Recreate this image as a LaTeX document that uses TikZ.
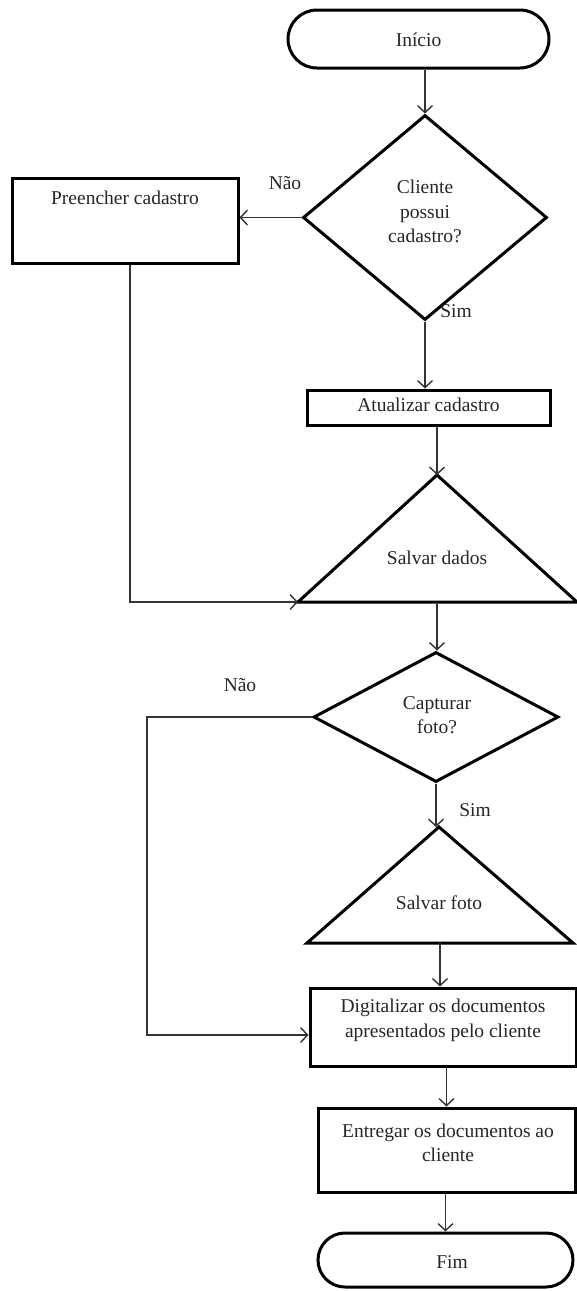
\documentclass[tikz,border=0pt]{standalone}
\usepackage{fontspec}
\setmainfont{Liberation Serif}
\usetikzlibrary{shapes.geometric,shapes.misc,arrows.meta}
\begin{document}
\begin{tikzpicture}[x=1pt,y=-1pt,
  every node/.style={font=\fontsize{19.5}{24.5}\selectfont,text=black!85},
  shp/.style={draw=black,line width=3pt},
  term/.style={shp,rounded rectangle,inner sep=0pt},
  dec/.style={shp,diamond,inner sep=0pt},
  boxnode/.style={shp,rectangle,inner sep=0pt},
  txt/.style={align=center,inner sep=0pt},
  conn/.style={draw=black!80,line width=1.4pt,-{Straight Barb[length=7pt,width=15pt]}}]
\useasboundingbox (0,0) rectangle (577,1291);

% shapes
\node[term, minimum width=261pt, minimum height=58pt] (ini) at (418.5,39) {};
\node[txt] (tini) at (418.5,40) {Início};

\node[dec, minimum width=244pt, minimum height=205pt] (d1) at (425,217.5) {};
\node[txt] (td1) at (425,211.5) {Cliente\\possui\\cadastro?};

\node[boxnode, minimum width=226pt, minimum height=85pt] (pre) at (125,220.5) {};
\node[txt] (tpre) at (125,198) {Preencher cadastro};

\node[boxnode, minimum width=243pt, minimum height=35pt] (atu) at (428.5,407.5) {};
\node[txt] (tatu) at (428.5,405) {Atualizar cadastro};

\coordinate (t1a) at (437,475);
\coordinate (t1l) at (298,602);
\coordinate (t1r) at (577,602);
\coordinate (t1b) at (437,602);
\draw[shp,line join=miter] (t1a) -- (t1r) -- (t1l) -- cycle;
\node[txt] (tt1) at (437,558) {Salvar dados};

\node[dec, minimum width=245pt, minimum height=130pt] (d2) at (436,717) {};
\node[txt] (td2) at (437,715) {Capturar\\foto?};

\coordinate (t2a) at (439,827);
\coordinate (t2l) at (307,943);
\coordinate (t2r) at (573,943);
\coordinate (t2b) at (440,943);
\draw[shp,line join=miter] (t2a) -- (t2r) -- (t2l) -- cycle;
\node[txt] (tt2) at (439,903) {Salvar foto};

\node[boxnode, minimum width=266pt, minimum height=78pt] (dig) at (443,1027) {};
\node[txt] (tdig) at (443,1020.5) {Digitalizar os documentos\\apresentados pelo cliente};

\node[boxnode, minimum width=257pt, minimum height=84pt] (ent) at (446.5,1150) {};
\node[txt] (tent) at (448,1143) {Entregar os documentos ao\\cliente};

\node[term, minimum width=255pt, minimum height=54pt] (fim) at (445.5,1260) {};
\node[txt] (tfim) at (452,1262) {Fim};

% labels
\node[txt] (nao1) at (285,183) {Não};
\node[txt] (sim1) at (456,311) {Sim};
\node[txt] (nao2) at (240,685) {Não};
\node[txt] (sim2) at (475,810) {Sim};

% connectors
\draw[conn] (ini.south -| d1.north) -- (d1.north);
\draw[conn] (d1.west) -- (d1.west -| pre.east);
\draw[conn] (d1.south) -- (d1.south |- atu.north);
\draw[conn] (atu.south -| t1a) -- (t1a);
\draw[conn] ([xshift=5pt]pre.south) |- (t1l);
\draw[conn] (t1b) -- (t1b |- d2.north);
\draw[conn] (d2.south) -- (d2.south |- t2a);
\draw[conn] (d2.west) -- ++(-165,0) |- ([yshift=-8pt]dig.west);
\draw[conn] (t2b) -- (t2b |- dig.north);
\draw[conn] (dig.south -| ent.north) -- (ent.north);
\draw[conn] (ent.south -| fim.north) -- (fim.north);
\end{tikzpicture}
\end{document}
